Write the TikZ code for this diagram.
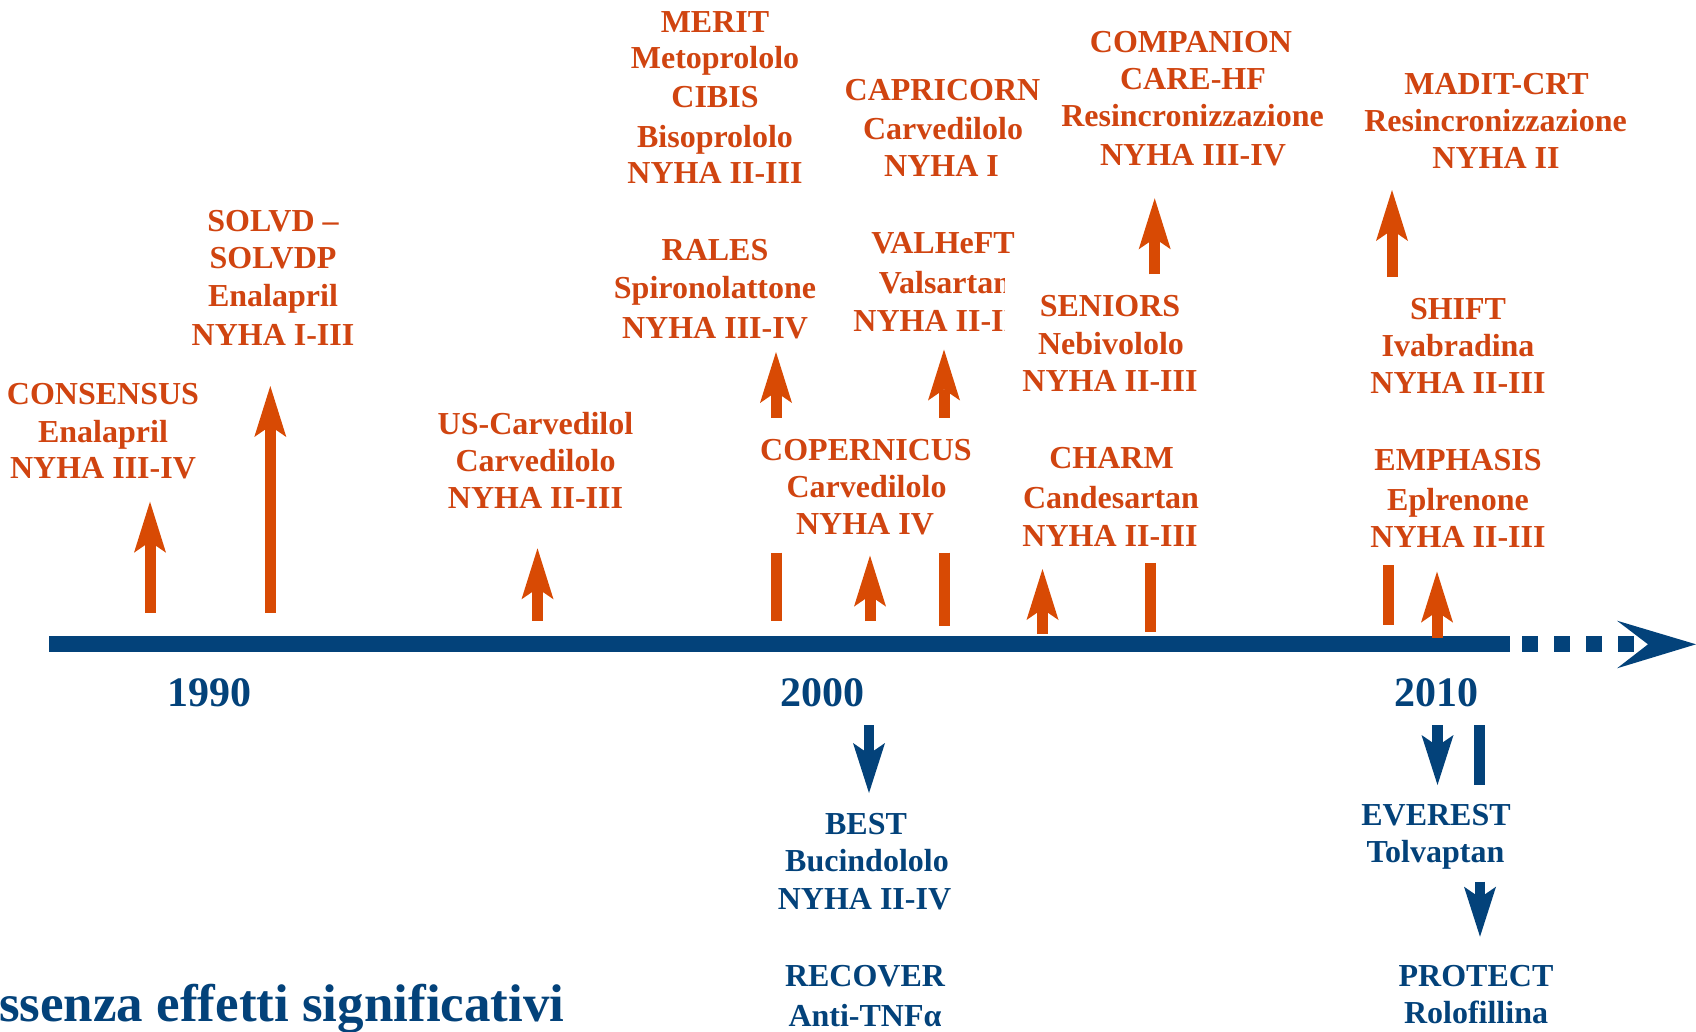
\documentclass[tikz,border=0pt]{standalone}
\usepackage{fontspec}
\setmainfont{Liberation Serif}
\usetikzlibrary{arrows.meta}
\definecolor{orng}{RGB}{216,74,4}
\definecolor{orngtxt}{RGB}{208,68,16}
\definecolor{navy}{RGB}{3,66,122}
\newcommand\otx[4]{\node[otxt] (#1) at (#2,#3) {#4};}
\newcommand\btx[4]{\node[btxt] (#1) at (#2,#3) {#4};}
\newcommand\oup[4]{\coordinate (#1b) at (#2,#3); \coordinate (#1t) at (#2,#4); \draw[oarr] (#1b) -- (#1t);}
\newcommand\obr[4]{\coordinate (#1t) at (#2,#3); \coordinate (#1b) at (#2,#4); \draw[obar] (#1t) -- (#1b);}
\newcommand\bdn[4]{\coordinate (#1t) at (#2,#3); \coordinate (#1b) at (#2,#4); \draw[barr] (#1t) -- (#1b);}
\begin{document}
\begin{tikzpicture}[x=1pt,y=-1pt,
  otxt/.style={font=\fontsize{32}{38}\selectfont\bfseries, text=orngtxt, inner sep=0pt, anchor=base},
  btxt/.style={font=\fontsize{32}{38}\selectfont\bfseries, text=navy, inner sep=0pt, anchor=base},
  yrtxt/.style={font=\fontsize{42}{48}\selectfont\bfseries, text=navy, inner sep=0pt, anchor=base},
  oarr/.style={draw=orng, line width=11pt, -{Stealth[length=51pt,width=32pt,inset=11pt,line width=0pt]}},
  obar/.style={draw=orng, line width=11pt},
  barr/.style={draw=navy, line width=10.5pt, -{Stealth[length=50pt,width=32pt,inset=11pt,line width=0pt]}},
  bbar/.style={draw=navy, line width=11pt},
  tline/.style={draw=navy, line width=16.5pt}
]
\useasboundingbox (0,0) rectangle (1696,1031);

% ---------- timeline ----------
\coordinate (tl0) at (49,644);
\coordinate (tl1) at (1510,644);
\draw[tline] (tl0) -- (tl1);
\coordinate (ds0) at (1522,644);
\coordinate (ds1) at (1634,644);
\draw[tline, dash pattern=on 16pt off 16pt] (ds0) -- (ds1);
\fill[navy] (1617,620.7) -- (1696,644.3) -- (1617,668.3) -- (1648,644.3) -- cycle;

% ---------- years ----------
\node[yrtxt] (y1990) at (209.5,706) {1990};
\node[yrtxt] (y2000) at (822,706) {2000};
\node[yrtxt] (y2010) at (1436,706) {2010};

% ---------- orange arrows and bars ----------
\oup{a1}{150}{612.7}{501.7}
\oup{a2}{270.3}{612.7}{386}
\oup{a3}{537.5}{620.7}{548.3}
\oup{a4}{776}{417.5}{352}
\oup{a5}{870}{621}{555.6}
\oup{a6}{944}{417.5}{349.5}
\oup{a7}{1042.5}{634}{569}
\oup{a8}{1154.7}{274.3}{198.3}
\oup{a9}{1392}{277}{190}
\oup{a10}{1437}{637.5}{571.6}
\obr{b1}{776}{552.6}{621}
\obr{b2}{944}{552.6}{626}
\obr{b3}{1150}{562.8}{632}
\obr{b4}{1388}{565}{624.5}

% ---------- blue arrows ----------
\bdn{d1}{869}{725}{793}
\bdn{d2}{1437.5}{725}{785}
\bdn{d3}{1480}{881.7}{936.7}
\coordinate (bb1t) at (1479.5,725);
\coordinate (bb1b) at (1479.5,785);
\draw[bbar] (bb1t) -- (bb1b);

% ---------- orange texts ----------
\otx{cons1}{103}{404}{CONSENSUS}
\otx{cons2}{103}{442}{Enalapril}
\otx{cons3}{103}{478}{NYHA III-IV}

\otx{solv1}{273}{231}{SOLVD –}
\otx{solv2}{273}{268}{SOLVDP}
\otx{solv3}{273}{306}{Enalapril}
\otx{solv4}{273}{345.7}{NYHA I-III}

\otx{usc1}{535.5}{434}{US-Carvedilol}
\otx{usc2}{535.5}{471}{Carvedilolo}
\otx{usc3}{535.5}{508}{NYHA II-III}

\otx{mer1}{715}{32.3}{MERIT}
\otx{mer2}{715}{68.4}{Metoprololo}
\otx{mer3}{715}{107}{CIBIS}
\otx{mer4}{715}{147}{Bisoprololo}
\otx{mer5}{715}{183}{NYHA II-III}

\otx{ral1}{715}{260}{RALES}
\otx{ral2}{715}{298.5}{Spironolattone}
\otx{ral3}{715}{338}{NYHA III-IV}

\otx{cap1}{942.5}{100.7}{CAPRICORN}
\otx{cap2}{943}{139}{Carvedilolo}
\otx{cap3}{941.5}{176}{NYHA I}

\otx{val1}{943}{253}{VALHeFT}
\begin{scope}
\clip (840,264) rectangle (1004.5,345);
\otx{val2}{945}{293}{Valsartan}
\otx{val3}{941}{331.7}{NYHA II-III}
\end{scope}

\otx{cop1}{866}{460}{COPERNICUS}
\otx{cop2}{866.5}{497.5}{Carvedilolo}
\otx{cop3}{865}{534}{NYHA IV}

\otx{sen1}{1110}{316.6}{SENIORS}
\otx{sen2}{1111}{354.7}{Nebivololo}
\otx{sen3}{1110}{391.6}{NYHA II-III}

\otx{cha1}{1111.5}{468}{CHARM}
\otx{cha2}{1111}{508}{Candesartan}
\otx{cha3}{1110}{546.4}{NYHA II-III}

\otx{com1}{1191}{52}{COMPANION}
\otx{com2}{1193}{89.8}{CARE-HF}
\otx{com3}{1192.5}{126.6}{Resincronizzazione}
\otx{com4}{1193}{165.7}{NYHA III-IV}

\otx{mad1}{1496.5}{94.5}{MADIT-CRT}
\otx{mad2}{1495.5}{131}{Resincronizzazione}
\otx{mad3}{1496}{168}{NYHA II}

\otx{shi1}{1458}{319.6}{SHIFT}
\otx{shi2}{1458}{356.5}{Ivabradina}
\otx{shi3}{1458}{393.8}{NYHA II-III}

\otx{emp1}{1458}{470.5}{EMPHASIS}
\otx{emp2}{1458}{510.8}{Eplrenone}
\otx{emp3}{1458}{547.3}{NYHA II-III}

% ---------- blue texts ----------
\btx{bes1}{866}{834}{BEST}
\btx{bes2}{867}{871.7}{Bucindololo}
\btx{bes3}{864.5}{909}{NYHA II-IV}
\btx{rec1}{865}{986.7}{RECOVER}
\btx{rec2}{865}{1026}{Anti-TNFα}
\btx{eve1}{1436}{825.5}{EVEREST}
\btx{eve2}{1435.5}{862}{Tolvaptan}
\btx{pro1}{1476}{986.7}{PROTECT}
\btx{pro2}{1476}{1023}{Rolofillina}

\node[font=\fontsize{53}{60}\selectfont\bfseries, text=navy, inner sep=0pt, anchor=base west] (assenza) at (-1,1021.7) {ssenza effetti significativi};
\end{tikzpicture}
\end{document}
